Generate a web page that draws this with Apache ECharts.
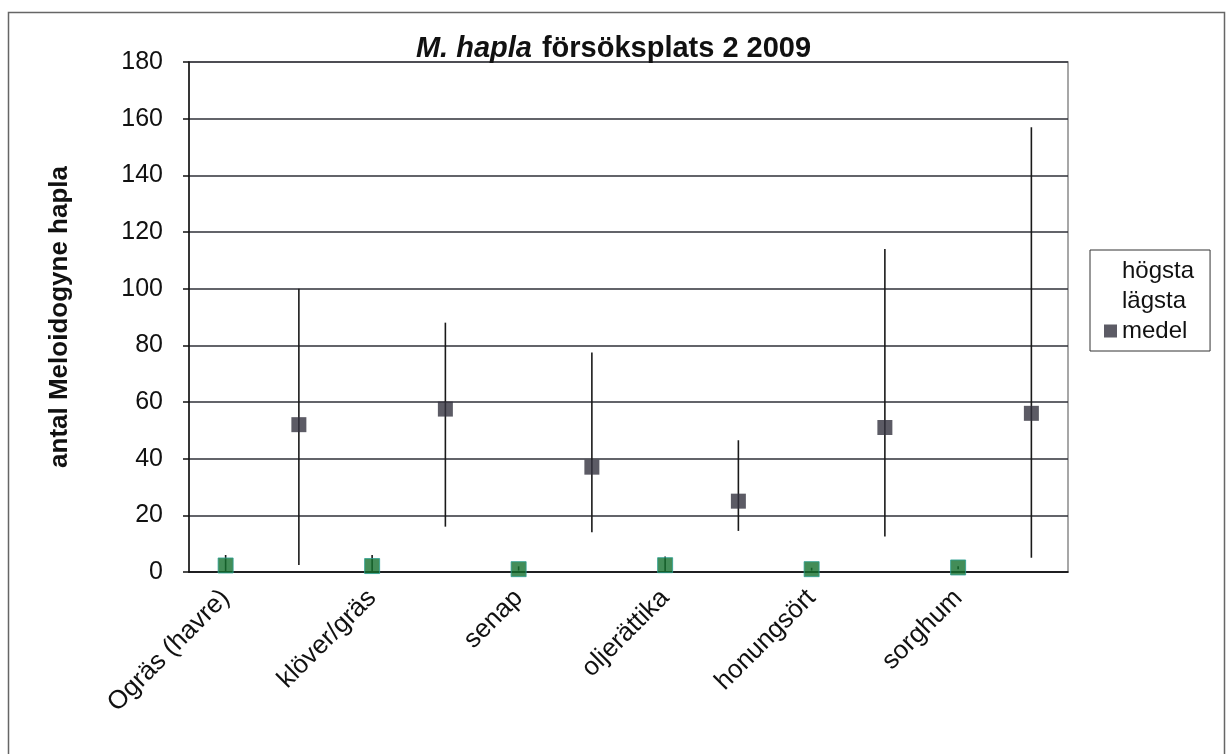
<!DOCTYPE html>
<html>
<head>
<meta charset="utf-8">
<script src="https://cdn.jsdelivr.net/npm/echarts@6/dist/echarts.min.js"></script>
<style>
html,body{margin:0;padding:0;background:#fff;}
#chart{width:1227px;height:754px;}
</style>
</head>
<body>
<div id="chart"></div>
<script>
// Data
var xLabels = ['Ogräs (havre)', 'klöver/gräs', 'senap', 'oljerättika', 'honungsört', 'sorghum'];
// 12 category slots: each labelled slot followed by an unlabelled slot
var categories = ['Ogräs (havre)', '', 'klöver/gräs', '', 'senap', '', 'oljerättika', '', 'honungsört', '', 'sorghum', ''];
var hogsta = [6, 100, 6, 88, 2, 77.5, 5.5, 46.5, 1.5, 114, 2, 157];
var lagsta = [0, 2.5, 0, 16, 0.5, 14, 0, 14.5, 0.5, 12.5, 1, 5];
var medel  = [2.3, 52, 2.1, 57.5, 1, 37, 2.4, 25, 1, 51, 1.6, 56];
var yTicks = [0, 20, 40, 60, 80, 100, 120, 140, 160, 180];

var FONT = '"Liberation Sans", Arial, sans-serif';
var chart = echarts.init(document.getElementById('chart'), null, {renderer: 'canvas'});

var hlData = categories.map(function (c, i) { return [i, lagsta[i], hogsta[i]]; });
var medelData = medel.map(function (v, i) {
  var green = (i % 2 === 0);
  return {
    value: v,
    itemStyle: green
      ? {color: '#14702e', borderColor: '#2c9f92', borderWidth: 1}
      : {color: '#33323e', borderColor: '#33323e', borderWidth: 0}
  };
});

var option = {
  backgroundColor: '#ffffff',
  animation: false,
  textStyle: {fontFamily: FONT},
  graphic: [{
    type: 'rect', z: -10,
    shape: {x: 8.5, y: 12.5, width: 1216, height: 770},
    style: {fill: 'none', stroke: '#666', lineWidth: 1.5}
  }],
  title: {
    text: '{a|M. hapla}  {b|försöksplats 2 2009}',
    left: 'center', top: 29,
    textStyle: {
      rich: {
        a: {fontFamily: FONT, fontSize: 29, fontWeight: 'bold', fontStyle: 'italic', color: '#111'},
        b: {fontFamily: FONT, fontSize: 29, fontWeight: 'bold', color: '#111'}
      }
    }
  },
  legend: {
    orient: 'vertical', left: 1090, top: 250,
    padding: [9, 16, 8, 14], itemGap: 6,
    itemWidth: 13, itemHeight: 13,
    borderColor: '#333', borderWidth: 1,
    textStyle: {fontFamily: FONT, fontSize: 24, color: '#111', padding: [0, 0, 0, 0]},
    data: [
      {name: 'högsta', icon: 'rect', itemStyle: {color: 'rgba(0,0,0,0)', borderWidth: 0}},
      {name: 'lägsta', icon: 'rect', itemStyle: {color: 'rgba(0,0,0,0)', borderWidth: 0}},
      {name: 'medel', icon: 'rect', itemStyle: {color: '#33323e', borderWidth: 0}}
    ]
  },
  grid: {
    left: 189, right: 159, top: 62, bottom: 182,
    show: true, borderColor: '#8a8a8a', borderWidth: 1.5, backgroundColor: 'rgba(0,0,0,0)'
  },
  xAxis: [{
    type: 'category', data: categories, boundaryGap: true,
    axisLine: {onZero: false, lineStyle: {color: '#111', width: 1.5}},
    axisTick: {interval: 0, length: 8, lineStyle: {color: '#111', width: 1.5}},
    axisLabel: {
      interval: function (i) { return i % 2 === 0; },
      rotate: 45, margin: 22, fontFamily: FONT, fontSize: 26, color: '#111'
    },
    splitLine: {show: false}
  }, {
    type: 'category', data: categories, boundaryGap: true, position: 'bottom',
    axisLine: {show: false},
    axisTick: {inside: true, interval: 0, length: 8, lineStyle: {color: '#111', width: 1.5}},
    axisLabel: {show: false}, splitLine: {show: false}
  }],
  yAxis: {
    type: 'value', min: 0, max: 180, interval: 20,
    name: 'antal Meloidogyne hapla', nameLocation: 'middle', nameRotate: 90, nameGap: 116,
    nameTextStyle: {fontFamily: FONT, fontSize: 26, fontWeight: 'bold', color: '#111'},
    axisLine: {show: true, lineStyle: {color: '#111', width: 1.5}},
    axisTick: {show: true, length: 6, lineStyle: {color: '#111', width: 1.5}},
    axisLabel: {
      margin: 26, fontFamily: FONT, fontSize: 25, color: '#111',
      formatter: function (v) { return yTicks.indexOf(v) >= 0 ? String(v) : ''; }
    },
    splitLine: {show: true, lineStyle: {color: '#2f3038', width: 1.5}}
  },
  series: [{
    name: 'högsta', type: 'custom', z: 2,
    data: hlData,
    renderItem: function (params, api) {
      var lo = api.coord([api.value(0), api.value(1)]);
      var hi = api.coord([api.value(0), api.value(2)]);
      return {
        type: 'line',
        shape: {x1: lo[0], y1: lo[1], x2: hi[0], y2: hi[1]},
        style: {stroke: '#1a1a1a', lineWidth: 1.6}
      };
    },
    encode: {x: 0, y: [1, 2]}
  }, {
    name: 'lägsta', type: 'scatter', symbol: 'none', symbolSize: 0, z: 1,
    data: lagsta, silent: true
  }, {
    name: 'medel', type: 'scatter', symbol: 'rect', symbolSize: 15, z: 5,
    data: medelData
  }]
};
chart.setOption(option);
</script>
</body>
</html>
